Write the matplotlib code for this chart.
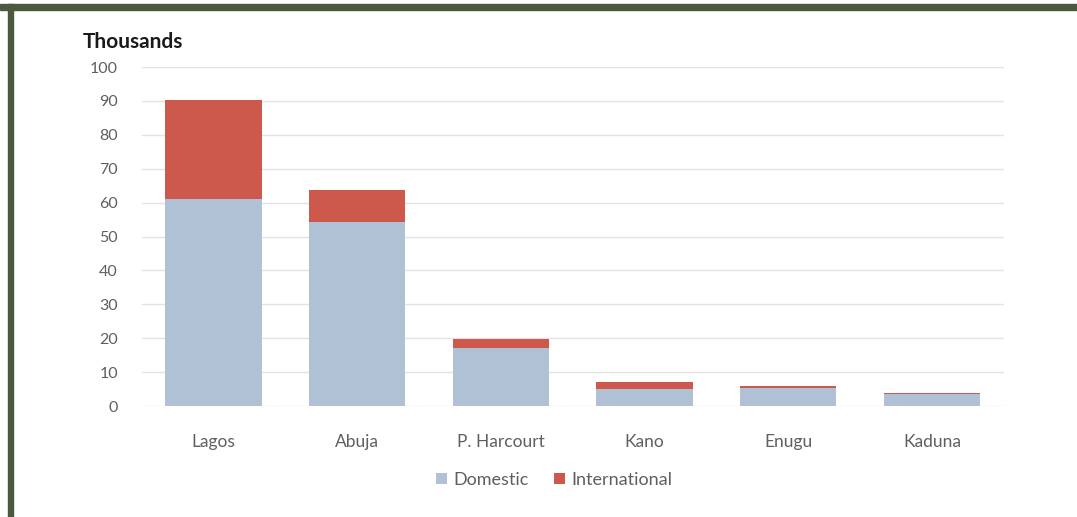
import matplotlib.pyplot as plt
import numpy as np
from matplotlib.patches import Rectangle

# passenger numbers per airport, thousands
airports = ['Lagos', 'Abuja', 'P. Harcourt', 'Kano', 'Enugu', 'Kaduna']
domestic = [61.1, 54.2, 17.2, 5.0, 5.4, 3.4]
international = [29.3, 9.4, 2.5, 2.1, 0.4, 0.4]
yticks = [0, 10, 20, 30, 40, 50, 60, 70, 80, 90, 100]

blue = '#b0c1d6'
red = '#cd584c'
grey = '#5f5f5f'

plt.rcParams['font.family'] = ['Lato', 'DejaVu Sans']

fig = plt.figure(figsize=(10.77, 5.17), dpi=100)
ax = fig.add_axes([0.1314, 0.2147, 0.8006, 0.6557])

x = np.arange(len(airports))
ax.bar(x, domestic, width=0.67, color=blue, label='Domestic', zorder=3)
ax.bar(x, international, width=0.67, bottom=domestic, color=red,
       label='International', zorder=3)

ax.set_xlim(-0.5, len(airports) - 0.5)
ax.set_ylim(0, 100)
ax.set_yticks(yticks)
ax.set_xticks(x)
ax.set_xticklabels(airports)
ax.tick_params(axis='both', length=0, colors=grey)
ax.tick_params(axis='x', pad=20, labelsize=12.5)
ax.tick_params(axis='y', pad=17, labelsize=11.5)
ax.grid(axis='y', color='#e3e3e3', linewidth=1, zorder=0)
for s in ax.spines.values():
    s.set_visible(False)

fig.text(83 / 1077, 1 - 42 / 517, 'Thousands', fontsize=15, fontweight='bold',
         color='#1a1a1a', va='center', ha='left')

leg = fig.legend(loc='center', bbox_to_anchor=(554 / 1077, 1 - 480 / 517),
                 ncol=2, frameon=False, fontsize=13, handlelength=0.6,
                 handleheight=0.6, handletextpad=0.35, columnspacing=1.4)
for t in leg.get_texts():
    t.set_color(grey)

# dark green frame on the top and left
frame = '#4b5a3f'
fig.patches.append(Rectangle((0, 1 - 10 / 517), 1, 6 / 517, transform=fig.transFigure,
                             color=frame, zorder=10))
fig.patches.append(Rectangle((8 / 1077, 0), 5 / 1077, 1 - 4 / 517,
                             transform=fig.transFigure, color=frame, zorder=10))

fig.savefig('out.png', dpi=100)
